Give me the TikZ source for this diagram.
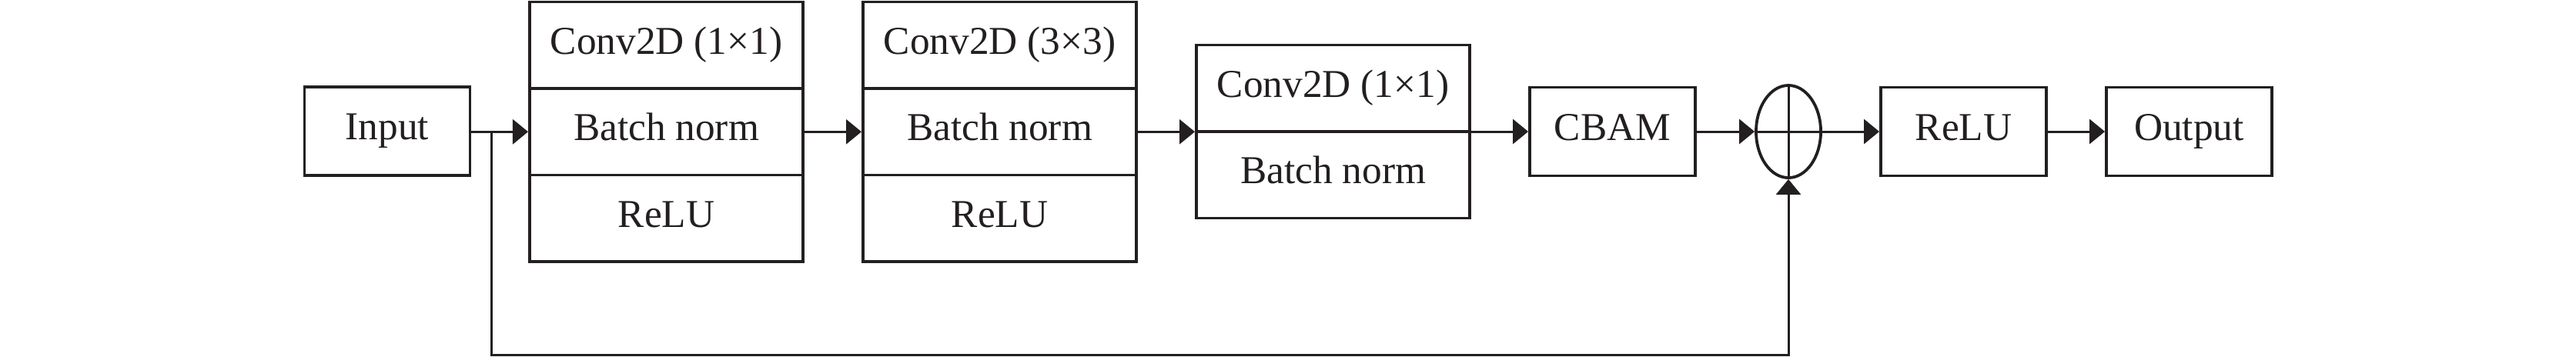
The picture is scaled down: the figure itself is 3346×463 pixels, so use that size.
\documentclass[tikz,border=0pt]{standalone}
\usepackage{fontspec}
\setmainfont{Liberation Serif}
\usetikzlibrary{arrows.meta,shapes.geometric}
\definecolor{ink}{RGB}{35,31,32}
\begin{document}
\begin{tikzpicture}[x=0.01cm,y=-0.01cm,
  every node/.style={font=\fontsize{14.6}{17}\selectfont, text=ink, text height=0.66em, text depth=0.02em},
  blk/.style={draw=ink, line width=0.038cm, rectangle, minimum width=2.15cm, minimum height=1.15cm, inner sep=0pt},
  layer/.style={draw=ink, line width=0.038cm, rectangle, minimum width=3.55cm, minimum height=1.125cm, inner sep=0pt},
  conn/.style={draw=ink, line width=0.03cm},
  arr/.style={conn, -{Triangle[length=0.2cm, width=0.32cm]}}]
\useasboundingbox (0,0) rectangle (3346,463);

\node[blk] (in) at (503,170.5) {Input};

\node[layer] (c1a) at (865.5,58.75) {Conv2D (1×1)};
\node[layer] (c1b) at (865.5,171.25) {Batch norm};
\node[layer] (c1c) at (865.5,283.75) {ReLU};

\node[layer] (c2a) at (1298.5,58.75) {Conv2D (3×3)};
\node[layer] (c2b) at (1298.5,171.25) {Batch norm};
\node[layer] (c2c) at (1298.5,283.75) {ReLU};

\node[layer] (c3a) at (1731.5,114.75) {Conv2D (1×1)};
\node[layer] (c3b) at (1731.5,227.25) {Batch norm};

\node[blk] (cbam) at (2094.5,171) {CBAM};
\node[draw=ink, line width=0.038cm, ellipse, minimum width=0.84cm, minimum height=1.2cm, inner sep=0pt] (add) at (2323,171) {};
\node[blk] (relu) at (2550.5,171) {ReLU};
\node[blk] (out) at (2843.5,171) {Output};

\draw[conn] (add.north) -- (add.south);
\draw[conn] (add.west) -- (add.east);

\coordinate (j) at (638,171);
\coordinate (bot) at (638,461.5);

\draw[arr] (in.east |- c1b.west) -- (c1b.west);
\draw[arr] (c1b.east) -- (c2b.west);
\draw[arr] (c2b.east) -- (c2b.east -| c3a.west);
\draw[arr] (cbam.west -| c3a.east) -- (cbam.west);
\draw[arr] (cbam.east) -- (add.west);
\draw[arr] (add.east) -- (relu.west);
\draw[arr] (relu.east) -- (out.west);
\draw[arr] (j) -- (bot) -| (add.south);
\end{tikzpicture}
\end{document}
